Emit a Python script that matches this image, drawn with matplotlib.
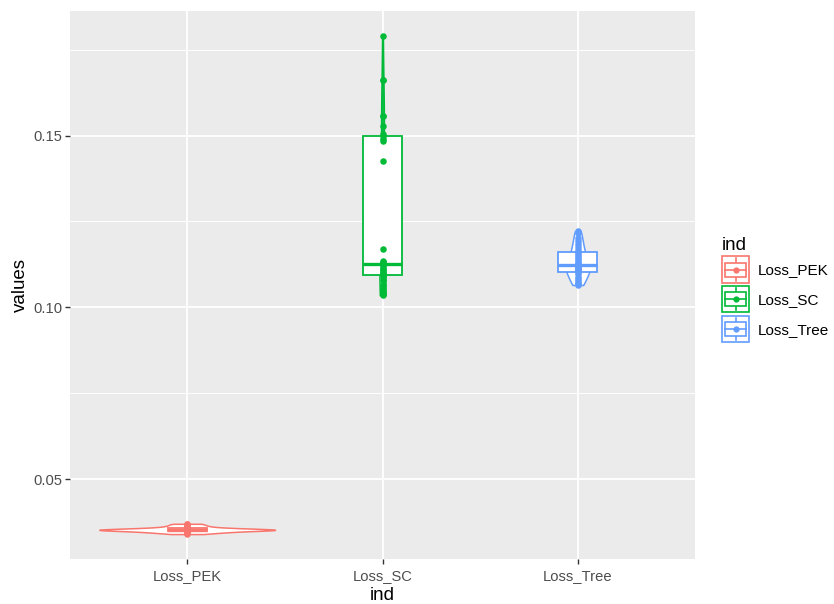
import numpy as np
import matplotlib.pyplot as plt
from matplotlib.patches import Rectangle
from matplotlib.lines import Line2D
from matplotlib.legend_handler import HandlerBase
from matplotlib.ticker import MultipleLocator

plt.rcParams['font.family'] = ['Liberation Sans', 'DejaVu Sans']

# loss values per model
groups = ['Loss_PEK', 'Loss_SC', 'Loss_Tree']
loss_pek = [0.0340, 0.0342, 0.0344, 0.0345, 0.0346, 0.0347, 0.0348, 0.0349, 0.0350, 0.0350,
            0.0351, 0.0351, 0.0352, 0.0352, 0.0352, 0.0353, 0.0353, 0.0354, 0.0354, 0.0355,
            0.0355, 0.0356, 0.0357, 0.0358, 0.0359, 0.0361, 0.0363, 0.0365, 0.0368, 0.0370]
loss_sc = [0.1035, 0.1038, 0.1042, 0.1048, 0.1055, 0.1066, 0.1080, 0.1092, 0.1096, 0.1100,
           0.1104, 0.1108, 0.1112, 0.1117, 0.1122, 0.1128, 0.1132, 0.1135, 0.1171, 0.1426,
           0.1485, 0.1490, 0.1500, 0.1505, 0.1529, 0.1556, 0.1556, 0.1663, 0.1663, 0.1790]
loss_tree = [0.1065, 0.1068, 0.1072, 0.1077, 0.1083, 0.1089, 0.1096, 0.1103, 0.1106, 0.1108,
             0.1110, 0.1112, 0.1115, 0.1118, 0.1121, 0.1124, 0.1128, 0.1133, 0.1138, 0.1144,
             0.1150, 0.1156, 0.1162, 0.1168, 0.1175, 0.1183, 0.1192, 0.1203, 0.1215, 0.1222]
data = [np.array(loss_pek), np.array(loss_sc), np.array(loss_tree)]
colors = ['#F8766D', '#00BA38', '#619CFF']


def kde(v, n=512):
    # gaussian kernel, nrd0 bandwidth, trimmed to the data range
    q1, q3 = np.percentile(v, [25, 75])
    bw = 0.9 * min(v.std(ddof=1), (q3 - q1) / 1.34) * len(v) ** -0.2
    y = np.linspace(v.min(), v.max(), n)
    d = np.exp(-0.5 * ((y[:, None] - v[None, :]) / bw) ** 2).sum(1) / (len(v) * bw * np.sqrt(2 * np.pi))
    return y, d


class BoxKey(HandlerBase):
    # violin + boxplot + point glyph for the legend
    def create_artists(self, legend, orig_handle, xdescent, ydescent, width, height, fontsize, trans):
        c = orig_handle.get_color()
        x0, y0 = -xdescent, -ydescent
        outer = Rectangle((x0 + 0.6, y0 + 0.6), width - 1.2, height - 1.2, facecolor='white', edgecolor=c, lw=1.2)
        box = Rectangle((x0 + 0.125 * width, y0 + 0.25 * height), 0.75 * width, 0.5 * height,
                        facecolor='white', edgecolor=c, lw=1.2)
        wl = Line2D([x0 + width / 2] * 2, [y0 + 0.1 * height, y0 + 0.9 * height], color=c, lw=1.2)
        med = Line2D([x0 + 0.125 * width, x0 + 0.875 * width], [y0 + height / 2] * 2, color=c, lw=1.2)
        pt = Line2D([x0 + width / 2], [y0 + height / 2], marker='o', ms=4.5, color=c, mew=0)
        arts = [outer, wl, box, med, pt]
        for a in arts:
            a.set_transform(trans)
        return arts


fig = plt.figure(figsize=(8.34, 6.04), dpi=100)
ax = fig.add_axes([70 / 834, 1 - 559 / 604, 625 / 834, 548 / 604])
ax.set_facecolor('#EBEBEB')

dens = [kde(v) for v in data]
dmax = max(d.max() for _, d in dens)

for i, (v, c, (yy, d)) in enumerate(zip(data, colors, dens)):
    half = 0.45 * d / dmax
    ax.fill_betweenx(yy, i - half, i + half, facecolor='white', edgecolor=c, lw=1.1, zorder=2)
    ax.boxplot(v, positions=[i], widths=0.2, whis=1.5, showcaps=False, showfliers=False,
               patch_artist=True, manage_ticks=False,
               boxprops=dict(facecolor='white', edgecolor=c, lw=1.3),
               whiskerprops=dict(color=c, lw=1.3),
               medianprops=dict(color=c, lw=2.4), zorder=3)
    ax.scatter(np.full(len(v), i), v, s=22, color=c, linewidths=0, zorder=4)

allv = np.concatenate(data)
pad = 0.05 * (allv.max() - allv.min())
ax.set_ylim(allv.min() - pad, allv.max() + pad)
ax.set_xlim(-0.6, 2.6)

ax.set_xticks(range(3))
ax.set_xticklabels(groups)
ax.set_yticks([0.05, 0.10, 0.15])
ax.set_yticklabels(['0.05', '0.10', '0.15'])
ax.yaxis.set_minor_locator(MultipleLocator(0.025))
ax.tick_params(which='major', length=3.4, width=1.0, color='#333333', labelcolor='#4D4D4D',
               labelsize=10.6, pad=2.2)
ax.tick_params(axis='x', pad=4)
ax.tick_params(which='minor', length=0)
ax.grid(which='major', color='white', lw=1.3)
ax.grid(which='minor', axis='y', color='white', lw=0.65)
ax.set_axisbelow(True)
for s in ax.spines.values():
    s.set_visible(False)

ax.set_xlabel('ind', fontsize=13.5, labelpad=3)
ax.set_ylabel('values', fontsize=13.5, labelpad=3)

handles = [Line2D([], [], color=c) for c in colors]
leg = fig.legend(handles, groups, handler_map={Line2D: BoxKey()}, loc='center left',
                 bbox_to_anchor=(720 / 834, 1 - 290 / 604), frameon=False, fontsize=11,
                 title='ind', title_fontsize=13.5, handlelength=1.85, handleheight=2.45,
                 labelspacing=0.1, handletextpad=0.55, borderaxespad=0, borderpad=0.1)
leg._legend_box.align = 'left'

fig.savefig('out.png', dpi=100)
